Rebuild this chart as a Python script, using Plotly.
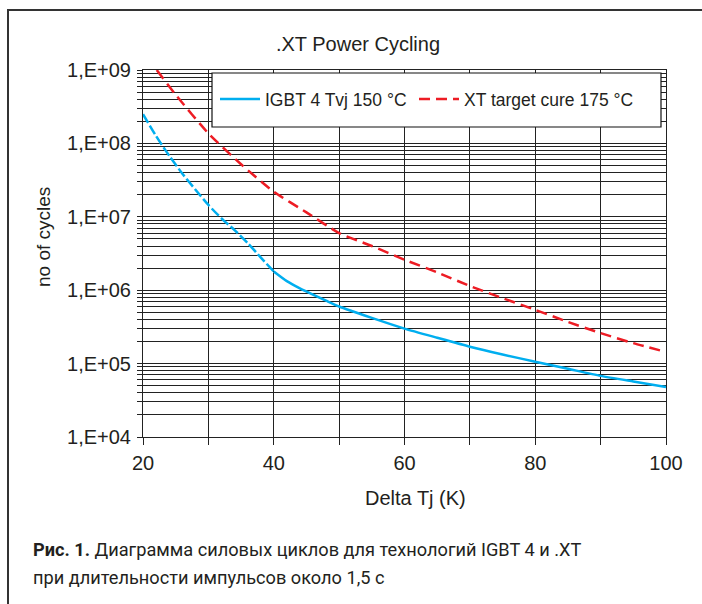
import plotly.graph_objects as go

# ---------------- data ----------------
delta_tj_igbt_extrap = [20, 22, 24, 26, 28, 30, 32, 34, 36, 38, 40]
cycles_igbt_extrap = [2.5e8, 1.26e8, 6.8e7, 3.9e7, 2.35e7, 1.45e7, 9.5e6, 6.6e6, 4.4e6, 2.8e6, 1.8e6]

delta_tj_igbt = [40, 42, 44, 46, 48, 50, 55, 60, 65, 70, 75, 80, 85, 90, 95, 100]
cycles_igbt = [1.8e6, 1.33e6, 1.06e6, 8.7e5, 7.2e5, 6.0e5, 4.2e5, 3.0e5, 2.25e5, 1.7e5,
               1.33e5, 1.06e5, 8.5e4, 6.8e4, 5.7e4, 4.8e4]

delta_tj_xt = [22.1, 25, 30, 35, 40, 45, 50, 55, 60, 65, 70, 75, 80, 85, 90, 95, 100]
cycles_xt = [1.0e9, 4.6e8, 1.37e8, 5.2e7, 2.2e7, 1.15e7, 6.0e6, 4.0e6, 2.6e6, 1.75e6,
             1.14e6, 7.8e5, 5.4e5, 3.7e5, 2.6e5, 1.9e5, 1.44e5]

series_names = ["IGBT 4 Tvj 150 °C", "XT target cure 175 °C"]

x_tick_vals = [20, 30, 40, 50, 60, 70, 80, 90, 100]
x_tick_text = ["20", "", "40", "", "60", "", "80", "", "100"]

decades = [4, 5, 6, 7, 8]
y_tick_vals = [k * 10 ** d for d in decades for k in range(1, 10)] + [1e9]
y_tick_text = [("1,E+%02d" % d if k == 1 else "") for d in decades for k in range(1, 10)] + ["1,E+09"]

title_text = ".XT Power Cycling"
x_title = "Delta Tj (K)"
y_title = "no of cycles"
caption_1 = "<b>Рис. 1.</b> Диаграмма силовых циклов для технологий IGBT 4 и .XT"
caption_2 = "при длительности импульсов около 1,5 с"

# ---------------- figure ----------------
BLUE = "#00aeef"
RED = "#ed1c24"
TXT = "#231f20"
GRID = "#222222"
FONT = "Liberation Sans, Arial, sans-serif"
CAPFONT = "Roboto"

fig = go.Figure()
fig.add_trace(go.Scatter(x=delta_tj_igbt_extrap, y=cycles_igbt_extrap, mode="lines",
                         line=dict(color=BLUE, width=2.5, dash="10px,3px", shape="spline", smoothing=0.6),
                         showlegend=False, hoverinfo="skip"))
fig.add_trace(go.Scatter(x=delta_tj_igbt, y=cycles_igbt, mode="lines", name=series_names[0],
                         line=dict(color=BLUE, width=2.5, shape="spline", smoothing=0.6),
                         legend="legend"))
fig.add_trace(go.Scatter(x=delta_tj_xt, y=cycles_xt, mode="lines", name=series_names[1],
                         line=dict(color=RED, width=2.5, dash="11px,6px", shape="spline", smoothing=0.6),
                         legend="legend2"))

W, H = 702, 604
L, R, T, B = 143, 36, 70, 167
pw, ph = W - L - R, H - T - B


def px_x(p):
    return (p - L) / pw


def px_y(p):
    return (H - B - p) / ph


shapes = [
    # legend box
    dict(type="rect", xref="paper", yref="paper", x0=px_x(212), x1=px_x(661), y0=px_y(127), y1=px_y(73),
         fillcolor="white", line=dict(color="#111", width=1.2), layer="above"),
    # outer frame
    dict(type="rect", xref="paper", yref="paper", x0=px_x(8), x1=px_x(712), y0=px_y(620), y1=px_y(10),
         fillcolor="rgba(0,0,0,0)", line=dict(color="#333", width=2), layer="above"),
]

annotations = [
    dict(text=x_title, xref="paper", yref="paper", x=px_x(415), y=px_y(498), xanchor="center", yanchor="middle",
         showarrow=False, font=dict(family=FONT, size=20, color=TXT)),
    dict(text=y_title, xref="paper", yref="paper", x=px_x(44), y=px_y(237), xanchor="center", yanchor="middle",
         textangle=-90, showarrow=False, font=dict(family=FONT, size=19, color=TXT)),
    dict(text=caption_1, xref="paper", yref="paper", x=px_x(31), y=px_y(549), xanchor="left", yanchor="middle",
         showarrow=False, font=dict(family=CAPFONT, size=18.2, color=TXT)),
    dict(text=caption_2, xref="paper", yref="paper", x=px_x(31), y=px_y(577), xanchor="left", yanchor="middle",
         showarrow=False, font=dict(family=CAPFONT, size=18.2, color=TXT)),
]

legend_common = dict(orientation="h", yanchor="middle", xanchor="left",
                     bgcolor="rgba(0,0,0,0)", borderwidth=0,
                     font=dict(family=FONT, size=17.5, color=TXT), itemwidth=40)

fig.update_layout(
    width=W, height=H,
    margin=dict(l=L, r=R, t=T, b=B, pad=0),
    paper_bgcolor="white", plot_bgcolor="white",
    font=dict(family=FONT, color=TXT),
    title=dict(text=title_text, x=358 / W, y=1 - 44 / H, xref="container", yref="container",
               xanchor="center", yanchor="middle", font=dict(family=FONT, size=20, color=TXT)),
    showlegend=True,
    legend=dict(x=px_x(215), y=px_y(99), **legend_common),
    legend2=dict(x=px_x(414), y=px_y(99), **legend_common),
    shapes=shapes,
    annotations=annotations,
    xaxis=dict(range=[20, 100], tickmode="array", tickvals=x_tick_vals, ticktext=x_tick_text,
               showgrid=True, gridcolor=GRID, gridwidth=1, zeroline=False,
               showline=True, linecolor=GRID, linewidth=1, mirror=True,
               ticks="outside", ticklen=7, tickcolor=GRID, tickwidth=1,
               tickfont=dict(family=FONT, size=20, color=TXT), ticklabelstandoff=1),
    yaxis=dict(type="log", range=[4, 9], tickmode="array", tickvals=y_tick_vals, ticktext=y_tick_text,
               showgrid=True, gridcolor=GRID, gridwidth=1, zeroline=False,
               showline=True, linecolor=GRID, linewidth=1, mirror=True,
               ticks="outside", ticklen=5, tickcolor=GRID, tickwidth=1,
               tickfont=dict(family=FONT, size=20, color=TXT), ticklabelstandoff=2),
)

fig.write_html("out.html")
